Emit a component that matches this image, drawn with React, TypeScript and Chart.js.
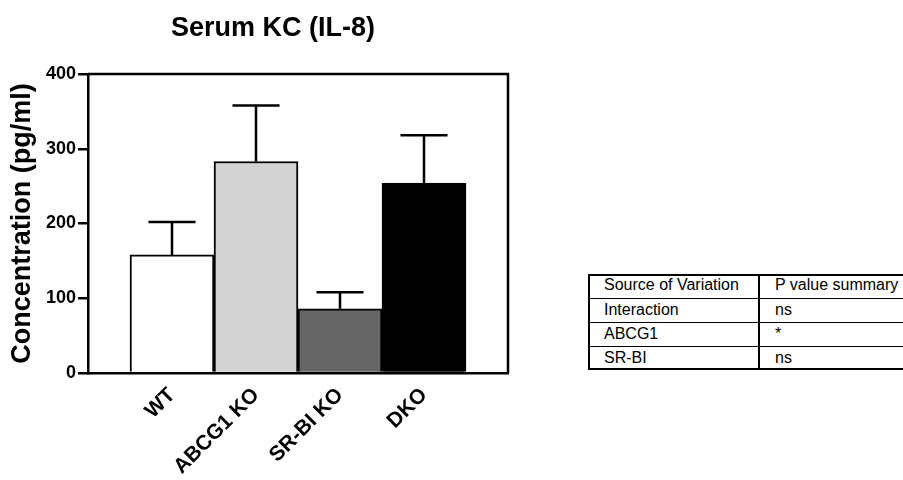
import React, { useEffect, useRef } from "react";
import { Chart, registerables } from "chart.js";

Chart.register(...registerables);

// Group means and standard errors (pg/ml)
const groups = ["WT", "ABCG1 KO", "SR-BI KO", "DKO"];
const means = [158, 283, 86, 254];
const sems = [44, 75, 22, 64];
const barColors = ["#ffffff", "#d3d3d3", "#666666", "#000000"];
const yTicks = [0, 100, 200, 300, 400];

// Two-way ANOVA summary table
const tableHeader = ["Source of Variation", "P value summary"];
const tableSources = ["Interaction", "ABCG1", "SR-BI"];
const tableSummaries = ["ns", "*", "ns"];

const FONT = 'Arial, "Liberation Sans", Helvetica, sans-serif';
const LINE = 2.5;
const TITLE_CENTER_X = 273;

// Shifts the title block so its text sits centred at TITLE_CENTER_X
const titlePlacement = {
  id: "titlePlacement",
  afterLayout(chart: any) {
    const tb = chart.titleBlock;
    if (tb) {
      tb.left = 0;
      tb.right = TITLE_CENTER_X * 2;
      tb.width = tb.right;
    }
  },
};

// Draws the upward SEM whiskers and closes the plot frame (top + right edges)
const errorBarsAndFrame = {
  id: "errorBarsAndFrame",
  afterDatasetsDraw(chart: any) {
    const ctx = chart.ctx;
    const yScale = chart.scales.y;
    const meta = chart.getDatasetMeta(0);
    ctx.save();
    ctx.strokeStyle = "#000";
    ctx.lineWidth = LINE;
    meta.data.forEach((bar: any, i: number) => {
      const x = bar.x;
      const yTop = yScale.getPixelForValue(means[i]);
      const yCap = yScale.getPixelForValue(means[i] + sems[i]);
      const half = bar.width * 0.28;
      ctx.beginPath();
      ctx.moveTo(x, yTop);
      ctx.lineTo(x, yCap);
      ctx.moveTo(x - half, yCap);
      ctx.lineTo(x + half, yCap);
      ctx.stroke();
    });
    const { left, right, top, bottom } = chart.chartArea;
    ctx.beginPath();
    ctx.moveTo(left, top);
    ctx.lineTo(right, top);
    ctx.lineTo(right, bottom);
    ctx.stroke();
    ctx.restore();
  },
};

function BarChart() {
  const ref = useRef<HTMLCanvasElement | null>(null);
  useEffect(() => {
    if (!ref.current) return;
    const chart = new Chart(ref.current, {
      type: "bar",
      data: {
        datasets: [
          {
            data: groups.map((_, i) => ({ x: i, y: means[i] })),
            backgroundColor: barColors,
            borderColor: "#000",
            borderWidth: 2,
            barPercentage: 1,
            categoryPercentage: 1,
          },
        ],
      },
      options: {
        animation: false,
        responsive: false,
        devicePixelRatio: 1,
        layout: { padding: { left: 0, right: 52, top: 0, bottom: 0 } },
        plugins: {
          legend: { display: false },
          tooltip: { enabled: false },
          title: {
            display: true,
            text: "Serum KC (IL-8)",
            color: "#000",
            font: { family: FONT, size: 27, weight: "bold" },
            padding: { top: 12, bottom: 29.6 },
          },
        },
        scales: {
          x: {
            type: "linear",
            offset: false,
            min: -1,
            max: 4,
            afterBuildTicks: (s: any) => {
              s.ticks = groups.map((_, i) => ({ value: i }));
            },
            afterFit: (s: any) => {
              s.height = 107;
            },
            ticks: {
              callback: (v: any) => groups[v] ?? "",
              minRotation: 45,
              maxRotation: 45,
              autoSkip: false,
              color: "#000",
              padding: 10,
              font: { family: FONT, size: 21, weight: "bold" },
            },
            grid: { offset: false, drawOnChartArea: false, drawTicks: false },
            border: { color: "#000", width: LINE },
          },
          y: {
            min: 0,
            max: 400,
            afterBuildTicks: (s: any) => {
              s.ticks = yTicks.map((v) => ({ value: v }));
            },
            afterFit: (s: any) => {
              s.width = 88;
            },
            ticks: {
              color: "#000",
              padding: 2,
              font: { family: FONT, size: 18, weight: "bold" },
            },
            grid: {
              drawOnChartArea: false,
              drawTicks: true,
              tickLength: 10,
              color: "#000",
              lineWidth: LINE,
            },
            border: { color: "#000", width: LINE },
            title: {
              display: true,
              text: "Concentration (pg/ml)",
              color: "#000",
              font: { family: FONT, size: 27, weight: "bold" },
              padding: { top: 6, bottom: 0 },
            },
          },
        },
      },
      plugins: [titlePlacement, errorBarsAndFrame],
    } as any);
    return () => chart.destroy();
  }, []);
  return (
    <canvas
      ref={ref}
      width={560}
      height={480}
      style={{ position: "absolute", left: 0, top: 0, width: 560, height: 480 }}
    />
  );
}

function AnovaTable() {
  const rows = [tableHeader, ...tableSources.map((s, i) => [s, tableSummaries[i]])];
  const rowH = 24;
  const colSplit = 171;
  return (
    <div
      style={{
        position: "absolute",
        left: 588,
        top: 274,
        width: 340,
        height: rows.length * rowH,
        border: "2px solid #000",
        boxSizing: "border-box",
        fontFamily: FONT,
        fontSize: 16,
        color: "#000",
      }}
    >
      {rows.map((r, i) => (
        <div
          key={i}
          style={{
            position: "absolute",
            left: 0,
            top: i * rowH - 2,
            width: "100%",
            height: rowH,
            borderTop: i > 0 ? "1px solid #000" : "none",
            boxSizing: "border-box",
            lineHeight: `${rowH - 2}px`,
          }}
        >
          <span style={{ position: "absolute", left: 14 }}>{r[0]}</span>
          <span style={{ position: "absolute", left: colSplit + 14 }}>{r[1]}</span>
        </div>
      ))}
      <div
        style={{
          position: "absolute",
          left: colSplit - 3,
          top: 0,
          width: 2,
          height: "100%",
          background: "#000",
        }}
      />
    </div>
  );
}

export default function App() {
  return (
    <div
      style={{
        position: "absolute",
        left: 0,
        top: 0,
        width: 903,
        height: 480,
        overflow: "hidden",
        background: "#fff",
      }}
    >
      <BarChart />
      <AnovaTable />
    </div>
  );
}
